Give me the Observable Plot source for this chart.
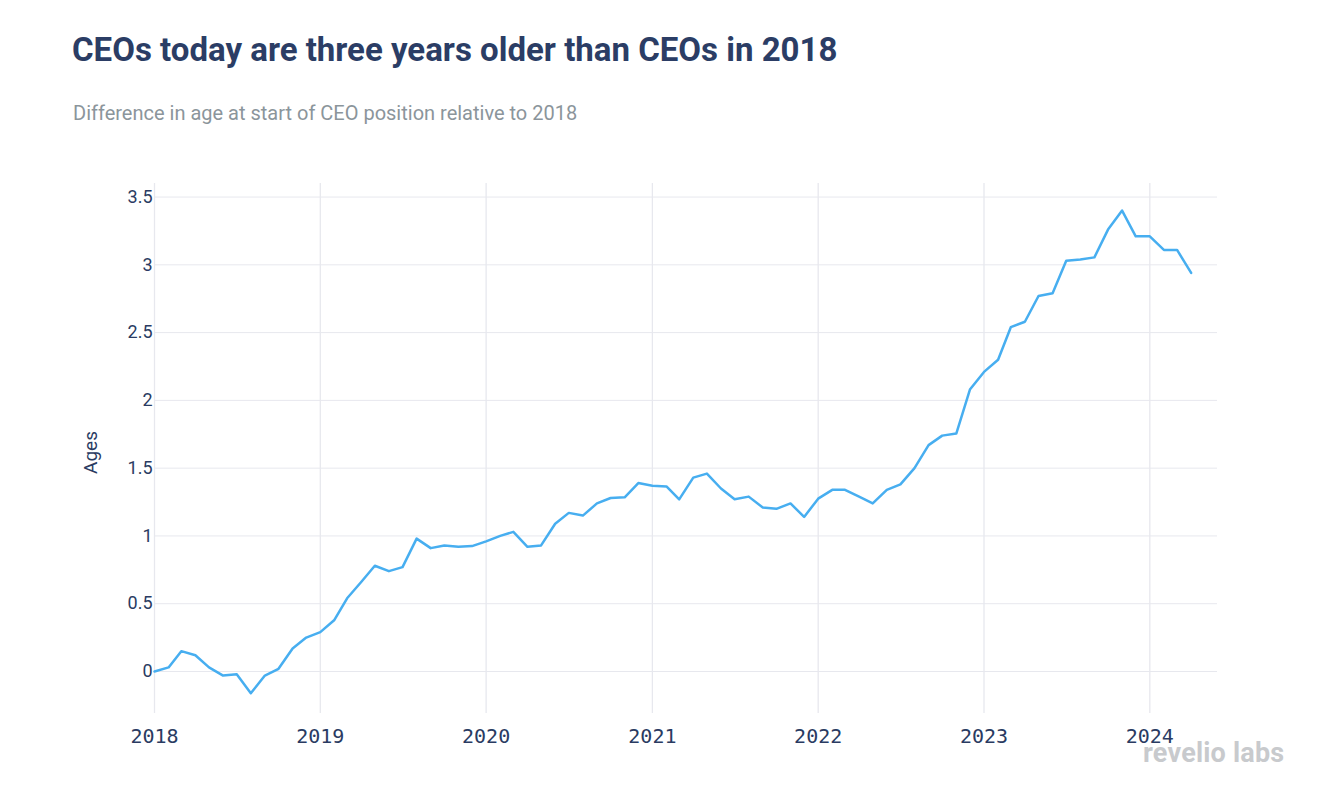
<!DOCTYPE html>
<html>
<head>
<meta charset="utf-8">
<script src="https://cdn.jsdelivr.net/npm/d3@7"></script>
<script src="https://cdn.jsdelivr.net/npm/@observablehq/plot@0.6"></script>
<style>
  html, body { margin: 0; padding: 0; background: #fff; }
  #wrap { position: relative; width: 1326px; height: 790px; overflow: hidden; font-family: Roboto, sans-serif; }
  #title { position: absolute; left: 72px; top: 31px; font-size: 33px; font-weight: 700; color: #2b3d65; line-height: 38px; white-space: nowrap; }
  #subtitle { position: absolute; left: 73px; top: 101px; font-size: 20px; color: #8b959b; line-height: 24px; white-space: nowrap; }
  #logo { position: absolute; left: 1143px; top: 737px; font-size: 27px; font-weight: 700; color: #c8cacd; letter-spacing: 0.2px; line-height: 32px; white-space: nowrap; }
  #chart { position: absolute; left: 0; top: 0; }
</style>
</head>
<body>
<div id="wrap">
  <div id="chart"></div>
  <div id="title">CEOs today are three years older than CEOs in 2018</div>
  <div id="subtitle">Difference in age at start of CEO position relative to 2018</div>
  <div id="logo">revelio labs</div>
</div>
<script>
// Monthly values: difference in age (years) relative to 2018, Jan 2018 – Apr 2024
const startMonth = "2018-01-01";
const endMonth = "2024-05-01";
const ageDiff = [
  // 2018
  0.00, 0.03, 0.15, 0.12, 0.03, -0.03, -0.02, -0.16, -0.03, 0.02, 0.17, 0.25,
  // 2019
  0.29, 0.38, 0.54, 0.66, 0.78, 0.74, 0.77, 0.98, 0.91, 0.93, 0.92, 0.925,
  // 2020
  0.96, 1.00, 1.03, 0.92, 0.93, 1.09, 1.17, 1.15, 1.24, 1.28, 1.285, 1.39,
  // 2021
  1.37, 1.365, 1.27, 1.43, 1.46, 1.35, 1.27, 1.29, 1.21, 1.20, 1.24, 1.14,
  // 2022
  1.275, 1.34, 1.34, 1.29, 1.24, 1.34, 1.38, 1.50, 1.67, 1.74, 1.755, 2.08,
  // 2023
  2.21, 2.30, 2.54, 2.58, 2.77, 2.79, 3.03, 3.04, 3.055, 3.26, 3.40, 3.21,
  // 2024
  3.21, 3.11, 3.11, 2.94
];
const yearTicks = ["2018", "2019", "2020", "2021", "2022", "2023", "2024"];
const yTicks = [0, 0.5, 1, 1.5, 2, 2.5, 3, 3.5];
const yTickLabels = ["0", "0.5", "1", "1.5", "2", "2.5", "3", "3.5"];
const yLabel = "Ages";

const months = d3.utcMonth.range(new Date(startMonth), new Date(endMonth));
const data = months.map((d, i) => ({date: d, value: ageDiff[i]}));
const yearDates = yearTicks.map(y => new Date(y + "-01-01"));

const grid = "#e7e8ee";
const ink = "#2a3b62";

const chart = Plot.plot({
  width: 1326,
  height: 790,
  marginTop: 183,
  marginBottom: 77,
  marginLeft: 154,
  marginRight: 109,
  style: {fontFamily: "Roboto, sans-serif", color: ink, background: "transparent"},
  x: {type: "utc", domain: [new Date("2018-01-01"), new Date("2024-05-29")]},
  y: {domain: [-0.31, 3.6]},
  marks: [
    Plot.gridY(yTicks, {stroke: grid, strokeOpacity: 1, strokeWidth: 1}),
    Plot.gridX(yearDates, {stroke: grid, strokeOpacity: 1, strokeWidth: 1.3}),
    Plot.axisY(yTicks, {
      tickSize: 0, tickPadding: 2, fontSize: 18, fill: ink,
      tickFormat: d => yTickLabels[yTicks.indexOf(d)],
      label: null
    }),
    Plot.text([yLabel], {
      frameAnchor: "left", dx: -64, dy: 4, rotate: -90,
      fontSize: 19, fill: ink, textAnchor: "middle"
    }),
    Plot.axisX(yearDates, {
      tickSize: 0, tickPadding: 15, fontSize: 20, fill: ink,
      fontFamily: "DejaVu Sans Mono",
      tickFormat: d => yearTicks[yearDates.findIndex(y => +y === +d)],
      label: null
    }),
    Plot.line(data, {x: "date", y: "value", stroke: "#47aef0", strokeWidth: 2.5, strokeLinejoin: "round"})
  ]
});
document.getElementById("chart").appendChild(chart);
</script>
</body>
</html>
